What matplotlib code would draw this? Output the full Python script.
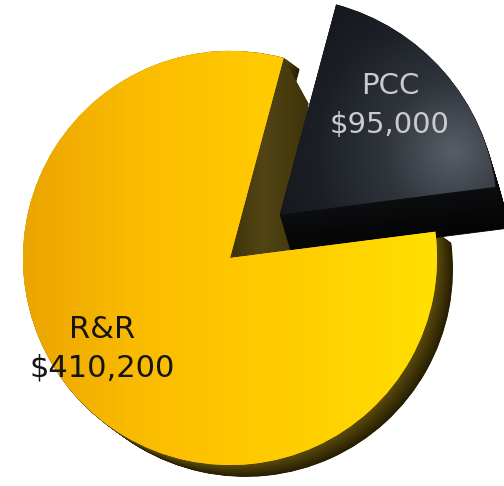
import numpy as np
import matplotlib
matplotlib.use('Agg')
import matplotlib.pyplot as plt
from matplotlib.patches import Wedge, Polygon
from matplotlib.colors import LinearSegmentedColormap, to_rgb

# ---- data ----
categories = ['PCC', 'R&R']
amounts = [95000, 410200]
amount_labels = ['$95,000', '$410,200']

# ---- layout (pixels -> data units, radius 1 == R_PX pixels) ----
W, H = 504, 486
R_PX = 207.0
CX, CY = 230.0, 258.0
xlim = (-CX / R_PX, (W - CX) / R_PX)
ylim = (-(H - CY) / R_PX, CY / R_PX)


def px(x, y):
    return (x - CX) / R_PX, (CY - y) / R_PX


fig = plt.figure(figsize=(5.04, 4.86), dpi=100)
ax = fig.add_axes([0, 0, 1, 1])

wedges, _ = ax.pie(amounts, explode=[0.32, 0], startangle=7.3, counterclock=True,
                   colors=['#1a1d21', '#FFC800'], wedgeprops=dict(linewidth=0))
# the detached slice is drawn slightly larger (perspective)
wedges[0].set_radius(1.05)

# ---- extruded sides ----
depths = [(0.06, -0.20), (0.075, -0.055)]
side_cols = [('#0c0d0f', '#030303'), ('#5a4a0c', '#261e02')]
side_z = [2, 1]
top_z = [3, 4]
steps = 40
for i, w in enumerate(wedges):
    cx, cy = w.center
    c_near = np.array(to_rgb(side_cols[i][0]))
    c_far = np.array(to_rgb(side_cols[i][1]))
    dx, dy = depths[i]
    for k in range(steps, 0, -1):
        f = k / steps
        col = c_near * (1 - f) + c_far * f
        ax.add_patch(Wedge((cx + dx * f, cy + dy * f), w.r, w.theta1, w.theta2,
                           facecolor=col, edgecolor=col, lw=0.6, zorder=side_z[i]))
    w.set_zorder(top_z[i])

# radial cut face of the large slice (seen in the gap)
wy = wedges[1]
t = np.radians(wy.theta1)
ax0, ay0 = wy.center
rim = (ax0 + wy.r * np.cos(t), ay0 + wy.r * np.sin(t))
offA = (0.30, 0.04)
offR = (0.12, -0.22)
band = Polygon([(ax0, ay0), rim, (rim[0] + offR[0], rim[1] + offR[1]),
                (ax0 + offA[0], ay0 + offA[1])], closed=True,
               facecolor='#4e4112', edgecolor='none', zorder=1.5)
ax.add_patch(band)
ncmap = LinearSegmentedColormap.from_list('b', ['#3e3309', '#524414', '#463a0e', '#342a07'])
n = 300
gx, gy = np.meshgrid(np.linspace(-1, 1, n), np.linspace(-1, 1, n))
imb = ax.imshow((gx + 1) / 2, extent=(ax0, ax0 + 0.45, ay0 - 0.3, ay0 + 1.05), origin='lower',
                cmap=ncmap, vmin=0, vmax=1, zorder=1.6, interpolation='bilinear')
imb.set_clip_path(band)

# ---- shaded top faces ----
ycmap = LinearSegmentedColormap.from_list('y', ['#EBA400', '#F9BA00', '#FFC600', '#FFD200', '#FFE000'])
arr_y = (gx + 1) / 2
im = ax.imshow(arr_y, extent=(wy.center[0] - 1, wy.center[0] + 1, wy.center[1] - 1, wy.center[1] + 1),
               origin='lower', cmap=ycmap, vmin=0, vmax=1, zorder=top_z[1] + 0.1, interpolation='bilinear')
im.set_clip_path(wy)

dcmap = LinearSegmentedColormap.from_list('d', ['#121519', '#1c2026', '#30353c', '#585e66'])
wd = wedges[0]
rd = wd.r
hx, hy = 0.85 * rd * np.cos(np.radians(20)), 0.85 * rd * np.sin(np.radians(20))
d = np.hypot(gx * rd - hx, gy * rd - hy)
arr_d = np.clip(1 - d / 1.0, 0, 1)
im2 = ax.imshow(arr_d, extent=(wd.center[0] - rd, wd.center[0] + rd, wd.center[1] - rd, wd.center[1] + rd),
                origin='lower', cmap=dcmap, vmin=0, vmax=1, zorder=top_z[0] + 0.1, interpolation='bilinear')
im2.set_clip_path(wd)

# ---- labels ----
label_pos = {'PCC': [(390, 86), (390, 125)], 'R&R': [(102, 330), (102, 368)]}
label_col = {'PCC': '#c9cbcd', 'R&R': '#141414'}
label_size = {'PCC': 21, 'R&R': 22}
for cat, amt in zip(categories, amount_labels):
    (x1, y1), (x2, y2) = label_pos[cat]
    ax.text(*px(x1, y1), cat, ha='center', va='center', fontsize=label_size[cat], color=label_col[cat],
            family='DejaVu Sans', zorder=6, parse_math=False)
    ax.text(*px(x2, y2), amt, ha='center', va='center', fontsize=label_size[cat], color=label_col[cat],
            family='DejaVu Sans', zorder=6, parse_math=False)

ax.set_xlim(xlim)
ax.set_ylim(ylim)
ax.set_aspect('auto')
ax.axis('off')
fig.savefig('out.png', dpi=100, facecolor='white')
